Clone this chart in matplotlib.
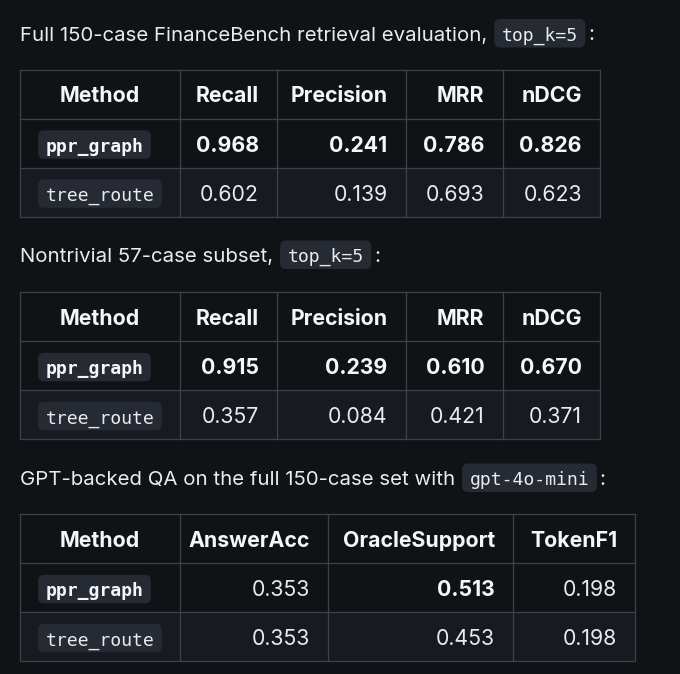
import matplotlib
matplotlib.use("Agg")
import matplotlib.pyplot as plt
from matplotlib.patches import Rectangle, FancyBboxPatch

# ---------------- data ----------------
t1_title = "Full 150-case FinanceBench retrieval evaluation,"
t1_code = "top_k=5"
t1_headers = ["Method", "Recall", "Precision", "MRR", "nDCG"]
t1_methods = ["ppr_graph", "tree_route"]
t1_recall = [0.968, 0.602]
t1_precision = [0.241, 0.139]
t1_mrr = [0.786, 0.693]
t1_ndcg = [0.826, 0.623]

t2_title = "Nontrivial 57-case subset,"
t2_code = "top_k=5"
t2_headers = ["Method", "Recall", "Precision", "MRR", "nDCG"]
t2_methods = ["ppr_graph", "tree_route"]
t2_recall = [0.915, 0.357]
t2_precision = [0.239, 0.084]
t2_mrr = [0.610, 0.421]
t2_ndcg = [0.670, 0.371]

t3_title = "GPT-backed QA on the full 150-case set with"
t3_code = "gpt-4o-mini"
t3_headers = ["Method", "AnswerAcc", "OracleSupport", "TokenF1"]
t3_methods = ["ppr_graph", "tree_route"]
t3_answeracc = [0.353, 0.353]
t3_oracle = [0.513, 0.453]
t3_tokenf1 = [0.198, 0.198]

# ---------------- style ----------------
BG = "#101216"
ALT = "#171a21"
CODE_BG = "#262a32"
BORDER = "#3d424a"
TXT = "#e8ebef"
WHITE = "#f4f6f8"
SANS = ["Inter", "DejaVu Sans"]
MONO = ["DejaVu Sans Mono"]
FS = 15.3
TFS = 14.7
MFS = 13.1

W, H = 680, 674
fig = plt.figure(figsize=(W / 100, H / 100), dpi=100, facecolor=BG)
ax = fig.add_axes([0, 0, 1, 1])
ax.set_xlim(0, W)
ax.set_ylim(H, 0)
ax.axis("off")
ax.set_facecolor(BG)
renderer = fig.canvas.get_renderer()


def width_of(t):
    return t.get_window_extent(renderer).width


def code_box(x_left, baseline, text, bold=False):
    t = ax.text(x_left + 7.5, baseline, text, family=MONO, fontsize=MFS,
                fontweight="bold" if bold else "normal", color=WHITE if bold else TXT,
                va="baseline", ha="left", zorder=5)
    w = width_of(t)
    box = FancyBboxPatch((x_left, baseline - 21.5), w + 15, 28.5,
                         boxstyle="round,pad=0,rounding_size=6",
                         fc=CODE_BG, ec="none", zorder=4)
    ax.add_patch(box)
    return x_left + w + 15


def title_line(baseline, text, code):
    t = ax.text(20, baseline, text, family=SANS, fontsize=TFS, color=TXT,
                va="baseline", ha="left")
    w = width_of(t)
    xe = code_box(20 + w + 7, baseline, code)
    ax.text(xe + 3, baseline, ":", family=SANS, fontsize=TFS, color=TXT,
            va="baseline", ha="left")


def draw_table(top, edges, headers, methods, columns, bold):
    row_h = 49
    n_rows = 1 + len(methods)
    bottom = top + row_h * n_rows
    # alternate row background
    for r in range(1, n_rows):
        if r % 2 == 0:
            ax.add_patch(Rectangle((edges[0], top + r * row_h), edges[-1] - edges[0], row_h,
                                   fc=ALT, ec="none", zorder=1))
    # grid
    for r in range(n_rows + 1):
        ax.plot([edges[0], edges[-1]], [top + r * row_h] * 2, color=BORDER, lw=0.9, zorder=2)
    for x in edges:
        ax.plot([x, x], [top, bottom], color=BORDER, lw=0.9, zorder=2)
    pad = 18
    # headers
    hb = top + row_h / 2 + 8.3
    for i, h in enumerate(headers):
        if i == 0:
            ax.text((edges[0] + edges[1]) / 2, hb, h, family=SANS, fontsize=FS,
                    fontweight="bold", color=WHITE, ha="center", va="baseline", zorder=5)
        else:
            ax.text(edges[i + 1] - pad, hb, h, family=SANS, fontsize=FS,
                    fontweight="bold", color=WHITE, ha="right", va="baseline", zorder=5)
    # body
    for r, m in enumerate(methods):
        yc = top + (r + 1) * row_h + row_h / 2
        b = yc + 8.8
        code_box(edges[0] + pad, b, m, bold=(r == 0))
        for c, col in enumerate(columns):
            isb = bold[r][c]
            ax.text(edges[c + 2] - pad, b, f"{col[r]:.3f}", family=SANS, fontsize=FS,
                    fontweight="bold" if isb else "normal",
                    color=WHITE if isb else TXT, ha="right", va="baseline", zorder=5)


edges12 = [20, 179.5, 277, 405.5, 502.5, 600]
edges3 = [20, 179.5, 328, 513, 635]

title_line(40.5, t1_title, t1_code)
draw_table(69.5, edges12, t1_headers, t1_methods,
           [t1_recall, t1_precision, t1_mrr, t1_ndcg],
           [[True] * 4, [False] * 4])

title_line(262, t2_title, t2_code)
draw_table(292, edges12, t2_headers, t2_methods,
           [t2_recall, t2_precision, t2_mrr, t2_ndcg],
           [[True] * 4, [False] * 4])

title_line(485, t3_title, t3_code)
draw_table(514, edges3, t3_headers, t3_methods,
           [t3_answeracc, t3_oracle, t3_tokenf1],
           [[False, True, False], [False] * 3])

fig.savefig("out.png", dpi=100, facecolor=BG)
